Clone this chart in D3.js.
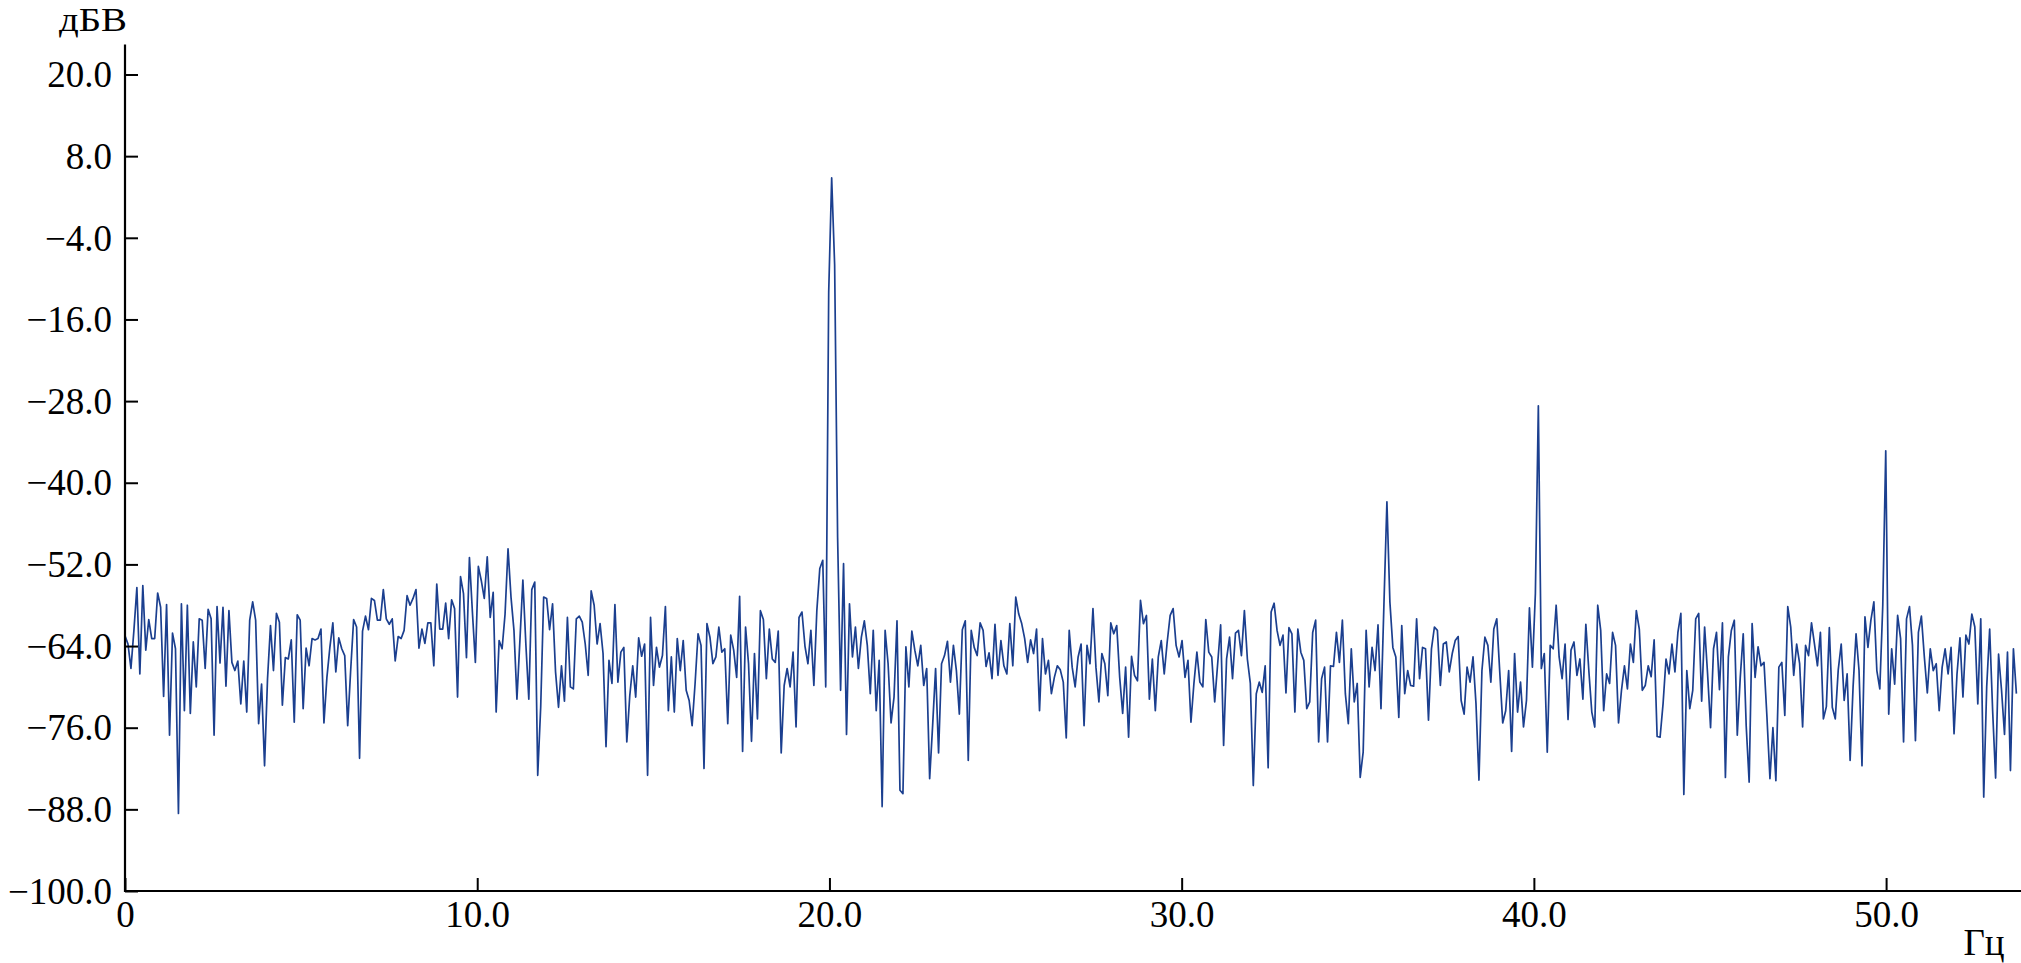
<!DOCTYPE html>
<html>
<head>
<meta charset="utf-8">
<script src="https://cdn.jsdelivr.net/npm/d3@7/dist/d3.min.js"></script>
<style>
  html, body { margin: 0; padding: 0; background: #ffffff; }
  svg { display: block; }
</style>
</head>
<body>
<svg id="chart" width="2021" height="963"></svg>
<script>
// ---------------- data ----------------
const freqStep = 0.0843; // Hz between spectrum samples
const spectrumDb = [
  // 0 - 5.2 Hz
  -62.5, -63.7, -67.3, -61.7, -55.4, -68.1, -55.1, -64.6, -60.1, -62.9, -62.9, -56.2, -58.3, -71.4, -57.9, -77.1,
  -62.1, -64.4, -88.6, -57.8, -73.5, -58.0, -73.9, -63.4, -70.0, -60.0, -60.2, -67.3, -58.6, -60.0, -77.1, -58.2,
  -66.5, -58.3, -69.9, -58.8, -66.4, -67.6, -66.2, -72.5, -66.2, -73.7, -60.2, -57.5, -60.2, -75.4, -69.6, -81.6,
  -68.8, -61.0, -67.6, -59.2, -60.5, -72.7, -65.7, -65.9, -63.1, -75.2, -59.4, -60.2, -73.2, -64.3,
  // 5.2 - 10.6 Hz
  -66.9, -62.9, -63.1, -62.9, -61.5, -75.3, -68.6, -64.2, -60.6, -67.8, -62.8, -64.4, -65.4, -75.7, -67.6, -60.1,
  -61.2, -80.5, -61.8, -59.6, -61.6, -57.0, -57.3, -60.2, -60.2, -55.7, -60.0, -60.8, -60.0, -66.2, -62.6, -62.9,
  -61.7, -56.6, -58.0, -57.0, -55.7, -64.3, -61.5, -63.6, -60.6, -60.6, -66.9, -54.9, -61.5, -61.5, -57.7, -62.9,
  -57.2, -58.5, -71.5, -53.8, -56.3, -65.7, -51.0, -59.0, -66.4, -52.3, -54.4, -57.0, -50.9, -59.8, -56.1, -73.7,
  // 10.6 - 16.0 Hz
  -63.2, -64.4, -59.3, -49.7, -56.8, -61.7, -71.8, -63.2, -54.3, -63.7, -71.8, -55.7, -54.6, -83.0, -73.0, -56.8,
  -57.0, -61.6, -57.8, -67.8, -73.0, -66.9, -72.1, -59.8, -70.0, -70.3, -60.0, -59.6, -60.5, -63.7, -68.3, -55.9,
  -58.0, -63.7, -60.7, -65.1, -78.8, -66.1, -69.5, -57.9, -69.3, -64.9, -64.2, -78.1, -71.3, -66.9, -71.5, -62.8,
  -65.5, -63.7, -83.0, -59.8, -69.8, -64.2, -67.1, -65.4, -58.2, -73.5, -65.6, -73.7, -62.9, -67.6, -63.2, -70.5,
  // 16.0 - 21.4 Hz (main peak)
  -72.0, -75.7, -69.5, -62.2, -63.9, -82.0, -60.7, -62.7, -66.6, -65.6, -61.2, -64.9, -64.4, -75.4, -62.4, -64.6,
  -68.6, -56.7, -79.5, -61.2, -66.6, -78.0, -65.1, -74.7, -58.8, -60.1, -68.8, -61.5, -65.9, -66.4, -61.8, -79.7,
  -69.8, -67.3, -70.0, -64.9, -75.9, -59.8, -59.0, -64.0, -66.6, -61.7, -69.8, -58.8, -52.6, -51.4, -70.0,
  -12.0, 4.8, -8.0, -48.0,
  -70.5, -51.9, -77.0, -57.8, -65.6, -61.2, -67.3, -62.7, -60.3, -63.9, -71.0, -61.7, -73.5,
  // 21.4 - 26.8 Hz
  -66.1, -87.6, -61.7, -66.6, -75.3, -71.5, -60.3, -85.2, -85.7, -64.1, -70.0, -61.8, -64.6, -66.9, -63.9, -69.8,
  -67.3, -83.5, -75.7, -67.3, -79.7, -66.6, -65.4, -63.3, -69.3, -63.9, -67.6, -74.0, -61.6, -60.3, -80.8, -61.7,
  -64.2, -65.4, -60.6, -61.7, -67.0, -65.0, -68.8, -60.8, -68.3, -63.2, -66.9, -68.1, -60.7, -66.9, -56.8, -59.3,
  -60.7, -62.9, -66.4, -63.1, -65.1, -61.5, -73.5, -62.9, -68.1, -66.1, -71.0, -68.6, -66.9, -67.5, -69.3, -77.5,
  // 26.8 - 32.2 Hz
  -61.7, -67.1, -70.0, -65.6, -63.7, -75.7, -63.9, -66.6, -58.5, -67.1, -72.2, -65.1, -66.6, -71.3, -60.6, -62.2,
  -61.0, -68.6, -73.9, -67.1, -77.4, -65.5, -68.3, -69.1, -57.3, -60.7, -59.5, -71.8, -65.9, -73.5, -65.6, -63.2,
  -68.1, -63.4, -59.5, -58.5, -63.9, -65.6, -63.2, -68.6, -66.1, -75.2, -69.5, -64.9, -69.3, -70.0, -60.1, -64.9,
  -65.6, -72.2, -66.6, -60.9, -78.6, -65.9, -62.7, -68.8, -62.1, -61.7, -65.4, -58.8, -65.9, -69.5, -84.5, -71.0,
  // 32.2 - 37.6 Hz
  -69.3, -70.8, -66.9, -81.9, -59.0, -57.7, -61.7, -63.9, -62.4, -70.9, -61.3, -62.2, -73.7, -61.5, -64.9, -66.1,
  -73.2, -72.2, -62.0, -60.2, -78.1, -68.8, -67.1, -78.1, -66.9, -67.0, -62.0, -66.4, -60.2, -71.0, -75.4, -64.4,
  -72.2, -69.5, -83.3, -79.6, -61.7, -70.0, -64.2, -67.6, -60.9, -73.2, -57.8, -42.8, -57.5, -64.2, -65.6, -74.5,
  -61.0, -71.0, -67.6, -69.8, -69.9, -60.0, -68.8, -64.2, -64.4, -74.9, -64.4, -61.2, -61.7, -69.8, -63.7, -63.4,
  // 37.6 - 43.0 Hz
  -67.8, -65.1, -63.2, -62.6, -72.0, -74.0, -67.1, -69.3, -65.6, -72.5, -83.7, -67.6, -62.7, -63.9, -69.3, -61.5,
  -60.0, -67.8, -75.3, -73.5, -67.6, -79.5, -65.1, -73.7, -69.3, -75.9, -72.0, -58.4, -67.1, -56.3, -28.7,
  -67.3, -65.1, -79.6, -63.9, -64.4, -58.0, -65.6, -68.8, -63.7, -74.8, -64.6, -63.4, -68.3, -65.9, -71.8, -60.8,
  -67.6, -73.7, -75.9, -58.0, -61.7, -73.5, -68.1, -69.5, -62.0, -63.9, -75.3, -70.5, -66.9, -70.3, -63.7, -66.4, -58.8,
  // 43.0 - 48.4 Hz
  -61.5, -70.5, -69.8, -66.9, -68.5, -63.1, -77.3, -77.4, -72.5, -65.9, -68.1, -63.7, -67.8, -62.0, -59.2, -85.8,
  -67.6, -73.2, -70.5, -60.0, -59.2, -72.1, -61.2, -68.1, -76.0, -64.4, -62.0, -70.4, -60.6, -83.3, -65.6, -61.7,
  -60.2, -77.1, -68.6, -62.2, -75.7, -84.0, -60.7, -68.6, -64.1, -66.9, -66.4, -74.5, -83.5, -76.0, -83.8, -67.1,
  -66.4, -74.2, -58.2, -61.2, -68.3, -63.7, -66.6, -75.9, -63.9, -65.4, -60.6, -63.7, -66.9, -62.0, -74.7, -72.9,
  // 48.4 - 53.7 Hz
  -61.3, -73.0, -74.7, -67.5, -63.7, -72.0, -68.1, -80.8, -70.0, -62.2, -67.6, -81.6, -59.7, -64.2, -60.2, -57.5,
  -67.6, -70.3, -58.0, -35.3,
  -74.0, -64.4, -69.6, -59.5, -62.9, -78.1, -60.0, -58.2, -63.9, -77.9, -62.0, -59.6, -65.6, -70.9, -64.4, -67.6,
  -66.6, -73.5, -67.1, -64.4, -68.1, -64.2, -76.9, -68.1, -62.8, -71.5, -62.4, -63.7, -59.3, -61.2, -72.5, -60.0,
  -86.2, -70.0, -61.5, -73.5, -83.4, -65.2, -70.5, -77.0, -64.9, -82.3, -64.4, -71.0
];

const xTickValues = [0, 10, 20, 30, 40, 50];
const xTickLabels = ["0", "10.0", "20.0", "30.0", "40.0", "50.0"];
const yTickValues = [20, 8, -4, -16, -28, -40, -52, -64, -76, -88, -100];
const yTickLabels = ["20.0", "8.0", "\u22124.0", "\u221216.0", "\u221228.0", "\u221240.0",
                     "\u221252.0", "\u221264.0", "\u221276.0", "\u221288.0", "\u2212100.0"];
const xDomain = [0, 53.83];
const yDomain = [-100, 20];
const yAxisTopDb = 24.4;
const yUnit = "дБВ";
const xUnit = "Гц";

// ---------------- drawing ----------------
const svg = d3.select("#chart");
const W = 2021, H = 963;
const left = 125, bottom = 891, top20 = 74.5;
const FONT = "'Liberation Serif', 'Times New Roman', serif";
const FS = 37;

svg.append("rect").attr("width", W).attr("height", H).attr("fill", "#ffffff");

const x = d3.scaleLinear().domain(xDomain).range([left, W]);
const y = d3.scaleLinear().domain(yDomain).range([bottom, top20]);

// line
const line = d3.line()
  .x((d, i) => x(i * freqStep))
  .y(d => y(d));

svg.append("path")
  .datum(spectrumDb)
  .attr("fill", "none")
  .attr("stroke", "#1b3f8f")
  .attr("stroke-width", 1.7)
  .attr("stroke-linejoin", "round")
  .attr("d", line);

// y axis
const yAxis = d3.axisLeft(y)
  .tickValues(yTickValues)
  .tickFormat((d, i) => yTickLabels[i])
  .tickSizeInner(-13)
  .tickSizeOuter(0)
  .tickPadding(13);

const gy = svg.append("g").attr("transform", `translate(${left},0)`).call(yAxis);
gy.select(".domain").remove();
gy.selectAll(".tick line").attr("stroke", "#000").attr("stroke-width", 2);
gy.selectAll(".tick text")
  .attr("fill", "#000")
  .attr("font-family", FONT)
  .attr("font-size", FS)
  .attr("dy", "0.33em");
gy.append("line")
  .attr("x1", 0).attr("x2", 0)
  .attr("y1", y(yAxisTopDb)).attr("y2", bottom + 1)
  .attr("stroke", "#000").attr("stroke-width", 2.2);

// x axis
const xAxis = d3.axisBottom(x)
  .tickValues(xTickValues)
  .tickFormat((d, i) => xTickLabels[i])
  .tickSizeInner(-13)
  .tickSizeOuter(0)
  .tickPadding(10);

const gx = svg.append("g").attr("transform", `translate(0,${bottom})`).call(xAxis);
gx.select(".domain").remove();
gx.selectAll(".tick line").attr("stroke", "#000").attr("stroke-width", 2);
gx.selectAll(".tick text")
  .attr("fill", "#000")
  .attr("font-family", FONT)
  .attr("font-size", FS);
gx.append("line")
  .attr("x1", left - 1).attr("x2", W)
  .attr("y1", 0).attr("y2", 0)
  .attr("stroke", "#000").attr("stroke-width", 2.2);

// unit labels
svg.append("text")
  .attr("x", 127).attr("y", 31)
  .attr("text-anchor", "end")
  .attr("font-family", FONT).attr("font-size", 33).attr("fill", "#000")
  .attr("textLength", 68)
  .attr("lengthAdjust", "spacingAndGlyphs")
  .text(yUnit);

svg.append("text")
  .attr("x", 1984).attr("y", 955)
  .attr("text-anchor", "middle")
  .attr("font-family", FONT).attr("font-size", FS).attr("fill", "#000")
  .text(xUnit);
</script>
</body>
</html>
